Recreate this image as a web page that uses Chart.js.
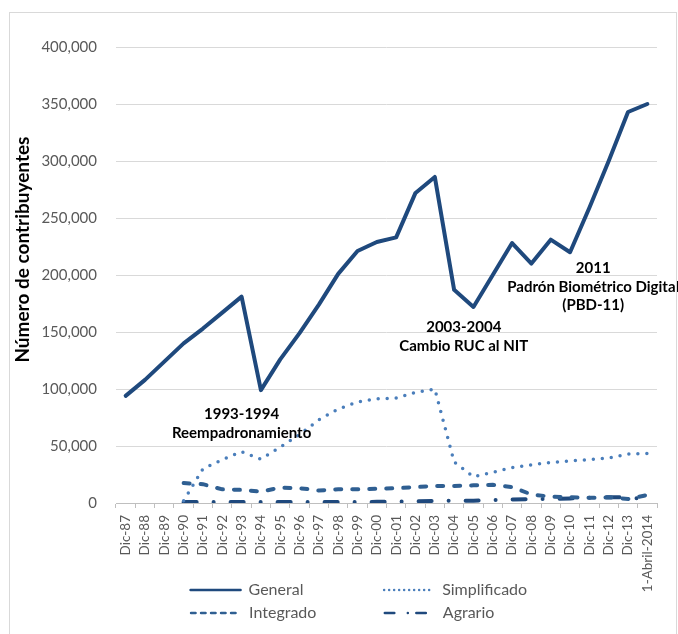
<!DOCTYPE html>
<html>
<head>
<meta charset="utf-8">
<script src="https://cdn.jsdelivr.net/npm/chart.js@4.4.1/dist/chart.umd.min.js"></script>
<style>
  body { margin: 0; background: #fff; }
  #wrap { position: relative; width: 678px; height: 634px; }
  #frame { position: absolute; left: 9px; top: 12px; width: 668px; height: 640px; box-sizing: border-box; border: 1px solid #d9d9d9; pointer-events: none; }
</style>
</head>
<body>
<div id="wrap">
  <canvas id="contribChart"></canvas>
  <div id="frame"></div>
</div>
<script>
// categories (fin de cada año + abril 2014)
const categories = ["Dic-87", "Dic-88", "Dic-89", "Dic-90", "Dic-91", "Dic-92", "Dic-93", "Dic-94",
  "Dic-95", "Dic-96", "Dic-97", "Dic-98", "Dic-99", "Dic-00", "Dic-01", "Dic-02", "Dic-03", "Dic-04",
  "Dic-05", "Dic-06", "Dic-07", "Dic-08", "Dic-09", "Dic-10", "Dic-11", "Dic-12", "Dic-13", "1-Abril-2014"];

const general = [94000, 108000, 124000, 140000, 153000, 167000, 181000, 99000, 126000, 149000,
  174000, 201000, 221000, 229000, 233000, 272000, 286000, 187000, 172000, 200000,
  228000, 210000, 231000, 220000, 259000, 300000, 343000, 350000];

const simplificado = [null, null, null, 2000, 30000, 38000, 45000, 38500, 49000, 60000,
  73000, 82500, 88500, 91500, 92000, 97000, 100000, 36000, 23000, 27000,
  31000, 33500, 35500, 37000, 38000, 39500, 43000, 43500];

const integrado = [null, null, null, 17500, 16500, 12000, 11500, 10000, 13500, 13000,
  11000, 12000, 12000, 12500, 13000, 14000, 15000, 15000, 15500, 16000,
  14000, 7500, 5500, 5000, 4500, 5000, 3500, 7000];

const agrario = [null, null, null, 800, 800, 800, 800, 800, 800, 800,
  800, 800, 900, 1000, 1200, 1500, 1800, 2000, 2000, 2500,
  3000, 3500, 3500, 4000, 4500, 5000, 5000, 3000];

const yTicks = [0, 50000, 100000, 150000, 200000, 250000, 300000, 350000, 400000];

// notas sobre el gráfico (posición en unidades de datos)
const notes = [
  { at: 6, value: 69500, lines: ["1993-1994", "Reempadronamiento"] },
  { at: 17.5, value: 146000, lines: ["2003-2004", "Cambio RUC al NIT"] },
  { at: 24.2, value: 189500, lines: ["2011", "Padrón Biométrico Digital", "(PBD-11)"] }
];

const legendFont = { family: "Lato", size: 16 };

// pad legend texts so the items fall in two columns
function padLabel(text, target) {
  const m = document.createElement("canvas").getContext("2d");
  m.font = legendFont.size + "px " + legendFont.family;
  let s = text;
  while (m.measureText(s + " ").width <= target) s += " ";
  return s;
}

const legendLook = {
  "General": { width: 2.5, dash: [], col: 1 },
  "Simplificado": { width: 2.5, dash: [0, 5], col: 2 },
  "Integrado": { width: 2.5, dash: [4.5, 5.5], col: 1 },
  "Agrario": { width: 2.5, dash: [9.5, 13.5, 0, 8.5], col: 2 }
};

const notesPlugin = {
  id: "notes",
  afterDatasetsDraw(chart) {
    const { ctx, scales: { x, y } } = chart;
    ctx.save();
    ctx.font = "bold 15px Lato";
    ctx.fillStyle = "#000";
    ctx.textAlign = "center";
    ctx.textBaseline = "middle";
    notes.forEach(n => {
      const cx = x.getPixelForValue(n.at);
      const cy = y.getPixelForValue(n.value);
      n.lines.forEach((t, i) => {
        ctx.fillText(t, cx, cy + (i - (n.lines.length - 1) / 2) * 18.5);
      });
    });
    ctx.restore();
  }
};

const ctx = document.getElementById("contribChart").getContext("2d");

new Chart(ctx, {
  type: "line",
  data: {
    labels: categories,
    datasets: [
      {
        label: "General",
        data: general,
        borderColor: "#1f497d",
        borderWidth: 4,
        borderCapStyle: "round",
        borderJoinStyle: "round"
      },
      {
        label: "Simplificado",
        data: simplificado,
        borderColor: "#4a7ebb",
        borderWidth: 3.5,
        borderDash: [0, 9],
        borderCapStyle: "round"
      },
      {
        label: "Integrado",
        data: integrado,
        borderColor: "#2f5f92",
        borderWidth: 4,
        borderDash: [6, 11],
        borderCapStyle: "round"
      },
      {
        label: "Agrario",
        data: agrario,
        borderColor: "#1f497d",
        borderWidth: 4,
        borderDash: [13, 17, 0, 17],
        borderCapStyle: "round"
      }
    ]
  },
  options: {
    responsive: true,
    maintainAspectRatio: false,
    animation: false,
    layout: { padding: { left: 9, right: 21, top: 47, bottom: 3 } },
    elements: {
      point: { radius: 0, hoverRadius: 0 },
      line: { tension: 0, fill: false }
    },
    scales: {
      x: {
        offset: true,
        grid: { offset: true, drawOnChartArea: false, drawTicks: true, tickLength: 5, color: "#bfbfbf" },
        border: { color: "#bfbfbf" },
        ticks: {
          autoSkip: false,
          minRotation: 90,
          maxRotation: 90,
          padding: 7,
          color: "#595959",
          font: { family: "Lato", size: 13.5 }
        },
        afterFit: (scale) => {
          scale.height = 72;
          // let the long last label run past the axis box
          scale._computeLabelArea = () => ({ top: 0, left: 0, bottom: scale.chart.height, right: scale.chart.width });
        }
      },
      y: {
        min: 0,
        max: 400000,
        afterBuildTicks: (scale) => { scale.ticks = yTicks.map(v => ({ value: v })); },
        grid: { color: "#d9d9d9", drawTicks: false },
        border: { display: false },
        ticks: {
          padding: 19,
          color: "#595959",
          font: { family: "Lato", size: 15 },
          callback: (v) => v.toLocaleString("en-US")
        },
        title: {
          display: true,
          text: "           Número de contribuyentes",
          color: "#000",
          font: { family: "Lato", size: 19, weight: "bold" },
          padding: { top: 2, bottom: 0 }
        },
        afterFit: (scale) => { scale.width = 107; }
      }
    },
    plugins: {
      tooltip: { enabled: false },
      legend: {
        position: "bottom",
        align: "end",
        labels: {
          usePointStyle: true,
          pointStyle: "line",
          pointStyleWidth: 50,
          padding: 7,
          textAlign: "left",
          color: "#595959",
          font: legendFont,
          generateLabels: (chart) => {
            const items = Chart.defaults.plugins.legend.labels.generateLabels(chart);
            return items.map(item => {
              const look = legendLook[item.text];
              item.lineWidth = look.width;
              item.lineDash = look.dash;
              item.lineCap = "round";
              item.text = padLabel(item.text, look.col === 1 ? 132 : 211);
              return item;
            });
          }
        }
      }
    }
  },
  plugins: [notesPlugin]
});
</script>
</body>
</html>
